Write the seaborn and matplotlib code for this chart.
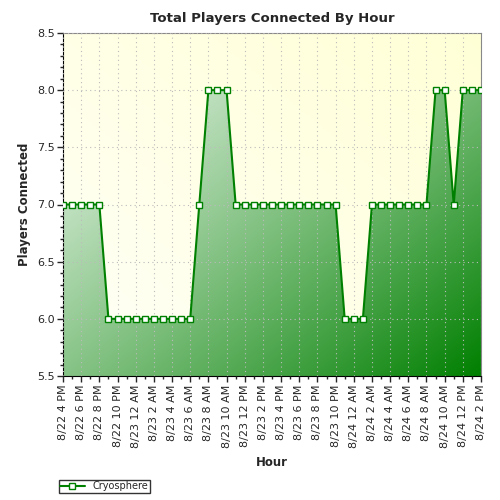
import matplotlib
matplotlib.use("Agg")
import matplotlib.pyplot as plt
import seaborn as sns
import numpy as np
import pandas as pd
from matplotlib.patches import Polygon
from matplotlib.ticker import MultipleLocator

players = [7]*5 + [6]*10 + [7] + [8]*3 + [7]*12 + [6]*3 + [7]*7 + [8]*2 + [7] + [8]*3
hours = list(range(len(players)))
tick_labels = ["8/22 4 PM", "8/22 6 PM", "8/22 8 PM", "8/22 10 PM", "8/23 12 AM", "8/23 2 AM",
               "8/23 4 AM", "8/23 6 AM", "8/23 8 AM", "8/23 10 AM", "8/23 12 PM", "8/23 2 PM",
               "8/23 4 PM", "8/23 6 PM", "8/23 8 PM", "8/23 10 PM", "8/24 12 AM", "8/24 2 AM",
               "8/24 4 AM", "8/24 6 AM", "8/24 8 AM", "8/24 10 AM", "8/24 12 PM", "8/24 2 PM"]
df = pd.DataFrame({"Hour": hours, "Players": players})

sns.set_style("white")
fig = plt.figure(figsize=(5, 5), dpi=100)
ax = fig.add_axes([0.126, 0.248, 0.836, 0.686])
x0, x1, y0, y1 = 0, len(players) - 1, 5.5, 8.5

# background gradient (light yellow): whiter bottom-left, yellower top-right
gx = np.linspace(0, 1, 100)[None, :]
gy = np.linspace(1, 0, 100)[:, None]
t = (gx + gy) / 2
c1 = np.array([1, 1, 0.97]); c2 = np.array([1, 1, 0.84])
bg = c1 * (1 - t[..., None]) + c2 * t[..., None]
ax.imshow(bg, extent=[x0, x1, y0, y1], aspect="auto", origin="upper", zorder=0)

# area gradient fill: light at top-left, dark green bottom-right
gx = np.linspace(0, 1, 200)[None, :]
gy = np.linspace(0, 1, 200)[:, None]
g = np.clip((gx + gy) / 2, 0, 1) ** 1.2
light = np.array([0.93, 0.97, 0.93]); dark = np.array([0.0, 0.5, 0.0])
fillimg = light * (1 - g[..., None]) + dark * g[..., None]
im = ax.imshow(fillimg, extent=[x0, x1, y0, y1], aspect="auto", origin="upper", zorder=1)
poly = Polygon(list(zip(hours, players)) + [(x1, y0), (x0, y0)], closed=True,
               transform=ax.transData, facecolor="none", edgecolor="none")
ax.add_patch(poly)
im.set_clip_path(poly)

sns.lineplot(data=df, x="Hour", y="Players", ax=ax, color="#008000", lw=1.5,
             marker="s", markersize=5, markerfacecolor="white", markeredgecolor="#008000",
             markeredgewidth=1, label="Cryosphere", zorder=3)

ax.set_xlim(x0, x1)
ax.set_ylim(y0, y1)
ax.set_xticks(hours[::2])
ax.set_xticklabels(tick_labels, rotation=90, fontsize=8)
ax.xaxis.set_minor_locator(MultipleLocator(1))
ax.yaxis.set_major_locator(MultipleLocator(0.5))
ax.yaxis.set_minor_locator(MultipleLocator(0.1))
ax.set_yticklabels([f"{v:.1f}" for v in ax.get_yticks()], fontsize=8)
ax.tick_params(axis="both", which="major", length=4, width=1, direction="out", bottom=True, left=True, pad=2)
ax.tick_params(axis="both", which="minor", length=2, width=1, direction="out", bottom=True, left=True)
ax.grid(True, which="major", color="#bbbbbb", linestyle=(0, (1, 3)), lw=0.8, zorder=0.5)
ax.set_axisbelow(False)
for s in ax.spines.values():
    s.set_color("#888888")
ax.spines["left"].set_color("black")
ax.spines["bottom"].set_color("black")
ax.set_xlabel("Hour", fontsize=8.5, fontweight="bold", labelpad=6)
ax.set_ylabel("Players Connected", fontsize=8.5, fontweight="bold")
ax.set_title("Total Players Connected By Hour", fontsize=9.5, fontweight="bold", pad=8)
leg = ax.legend(loc="upper left", bbox_to_anchor=(-0.01, -0.303), bbox_transform=ax.transAxes,
                fontsize=7, frameon=True, fancybox=False, borderpad=0.15, handlelength=2.5,
                borderaxespad=0)
leg.get_frame().set_edgecolor("black")
fig.patch.set_facecolor("white")
fig.savefig("out.png", dpi=100)
